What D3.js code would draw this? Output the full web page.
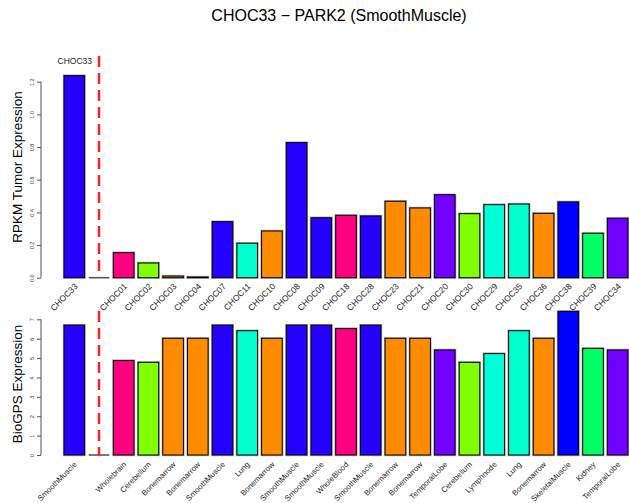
<!DOCTYPE html>
<html>
<head>
  <meta charset="utf-8">
  <script src="https://d3js.org/d3.v7.min.js"></script>
  <style>
    body { margin: 0; background: #fff; }
    text { font-family: "Liberation Sans", Arial, sans-serif; }
  </style>
</head>
<body>
<div id="chart"></div>
<script>

// samples on the top panel (slot 1 is the empty gap at the red line)
var samples = ['CHOC33', '', 'CHOC01', 'CHOC02', 'CHOC03', 'CHOC04', 'CHOC07', 'CHOC11', 'CHOC10',
               'CHOC08', 'CHOC09', 'CHOC18', 'CHOC28', 'CHOC23', 'CHOC21', 'CHOC20', 'CHOC30',
               'CHOC29', 'CHOC35', 'CHOC36', 'CHOC38', 'CHOC39', 'CHOC34'];
var rpkm = [1.237, 0, 0.153, 0.09, 0.01, 0.004, 0.343, 0.211, 0.286,
            0.827, 0.367, 0.382, 0.378, 0.468, 0.427, 0.508, 0.392,
            0.447, 0.451, 0.394, 0.464, 0.272, 0.364];

var tissues = ['SmoothMuscle', '', 'Wholebrain', 'Cerebellum', 'Bonemarrow', 'Bonemarrow', 'SmoothMuscle', 'Lung', 'Bonemarrow',
               'SmoothMuscle', 'SmoothMuscle', 'WholeBlood', 'SmoothMuscle', 'Bonemarrow', 'Bonemarrow', 'TemporalLobe', 'Cerebellum',
               'Lymphnode', 'Lung', 'Bonemarrow', 'SkeletalMuscle', 'Kidney', 'TemporalLobe'];
var biogps = [6.70, 0, 4.87, 4.78, 6.02, 6.02, 6.70, 6.41, 6.02,
              6.70, 6.70, 6.52, 6.70, 6.02, 6.02, 5.42, 4.78,
              5.23, 6.41, 6.02, 7.41, 5.50, 5.42];

var tissueNames = ['SmoothMuscle', 'Wholebrain', 'WholeBlood', 'Cerebellum', 'Bonemarrow', 'Lung',
                   'Lymphnode', 'TemporalLobe', 'SkeletalMuscle', 'Kidney'];
var tissueColors = ['#2600FF', '#FF0080', '#FF0080', '#80FF00', '#FF8C00', '#00FFCC',
                    '#00FFD9', '#7000FF', '#0000FF', '#00FF66'];

var topTicks = [0, 0.2, 0.4, 0.6, 0.8, 1.0, 1.2];
var botTicks = [0, 1, 2, 3, 4, 5, 6, 7];

var width = 629, height = 503;
var color = d3.scaleOrdinal().domain(tissueNames).range(tissueColors);

var svg = d3.select('#chart').append('svg')
  .attr('width', width)
  .attr('height', height);

var x = d3.scaleBand()
  .domain(d3.range(samples.length))
  .range([61.95, 61.95 + 23 * 24.7])
  .paddingInner(1 / 6)
  .paddingOuter(1 / 12);

var yTop = d3.scaleLinear().domain([0, 1.2]).range([277.7, 81.7]);
var yBot = d3.scaleLinear().domain([0, 7]).range([455, 319.3]);

svg.append('text')
  .attr('x', 339).attr('y', 21)
  .attr('text-anchor', 'middle')
  .style('font-size', '16px')
  .text('CHOC33 \u2212 PARK2 (SmoothMuscle)');

function panel(values, y, ticks, fmt, labels, fillOf, labelDx, labelY, labelSize, title, titleY) {
  var g = svg.append('g');
  var bars = values.map(function(v, i) { return {i: i, v: v}; });
  var filled = bars.filter(function(d) { return d.v > 0; });
  var empty = bars.filter(function(d) { return d.v === 0; });

  // gray halo then black outline, like the R device
  g.selectAll('rect.halo').data(filled).enter().append('rect')
    .attr('class', 'halo')
    .attr('x', function(d) { return x(d.i); })
    .attr('y', function(d) { return y(d.v); })
    .attr('width', x.bandwidth())
    .attr('height', function(d) { return y(0) - y(d.v); })
    .style('fill', 'none')
    .style('stroke', '#aaa')
    .style('stroke-width', 2.4);

  g.selectAll('rect.bar').data(filled).enter().append('rect')
    .attr('class', 'bar')
    .attr('x', function(d) { return x(d.i); })
    .attr('y', function(d) { return y(d.v); })
    .attr('width', x.bandwidth())
    .attr('height', function(d) { return y(0) - y(d.v); })
    .style('fill', function(d) { return fillOf(d.i); })
    .style('stroke', '#000')
    .style('stroke-width', 1);

  // zero-height bars show as a flat line
  g.selectAll('line.zero').data(empty).enter().append('line')
    .attr('class', 'zero')
    .attr('x1', function(d) { return x(d.i); })
    .attr('x2', function(d) { return x(d.i) + x.bandwidth(); })
    .attr('y1', y(0)).attr('y2', y(0))
    .style('stroke', '#555')
    .style('stroke-width', 1.6);

  var axis = d3.axisLeft(y).tickValues(ticks).tickSize(4).tickFormat(fmt);
  var ag = g.append('g')
    .attr('transform', 'translate(41,0)')
    .call(axis);
  ag.select('.domain').attr('d', 'M0,' + y(ticks[ticks.length - 1]) + 'V' + y(0)).style('stroke', '#555');
  ag.selectAll('.tick line').style('stroke', '#555');
  ag.selectAll('.tick text')
    .attr('x', null).attr('dy', null)
    .attr('transform', 'translate(-7,0) rotate(-90)')
    .attr('text-anchor', 'middle')
    .style('font-size', '5.5px')
    .style('fill', '#333')
    .style('font-family', '"Liberation Sans", Arial, sans-serif');

  g.selectAll('text.xlab').data(labels).enter().append('text')
    .attr('class', 'xlab')
    .attr('transform', function(d, i) {
      return 'translate(' + (x(i) + x.bandwidth() / 2 + labelDx) + ',' + labelY + ') rotate(-45)';
    })
    .attr('text-anchor', 'end')
    .style('font-size', labelSize)
    .style('fill', '#222')
    .text(function(d) { return d; });

  g.append('text')
    .attr('transform', 'translate(22,' + titleY + ') rotate(-90)')
    .attr('text-anchor', 'middle')
    .style('font-size', '13.5px')
    .text(title);
}

panel(rpkm, yTop, topTicks, d3.format('.1f'), samples,
      function(i) { return color(tissues[i]); }, 4, 287, '8.5px', 'RPKM Tumor Expression', 167);
panel(biogps, yBot, botTicks, d3.format('d'), tissues,
      function(i) { return color(tissues[i]); }, 3, 465, '7.8px', 'BioGPS Expression', 384);

// red dashed marker after the selected sample
var markX = x(1) + x.bandwidth() / 2;
svg.append('line')
  .attr('x1', markX).attr('x2', markX)
  .attr('y1', 56).attr('y2', yTop(0))
  .style('stroke', '#FF2020').style('stroke-width', 2.5).style('stroke-dasharray', '11,6');
svg.append('line')
  .attr('x1', markX).attr('x2', markX)
  .attr('y1', 311).attr('y2', yBot(0) + 1)
  .style('stroke', '#FF2020').style('stroke-width', 2.5).style('stroke-dasharray', '11,6');

svg.append('text')
  .attr('x', markX - 7).attr('y', 64)
  .attr('text-anchor', 'end')
  .style('font-size', '8.5px')
  .style('fill', '#222')
  .text(samples[0]);

</script>
</body>
</html>
